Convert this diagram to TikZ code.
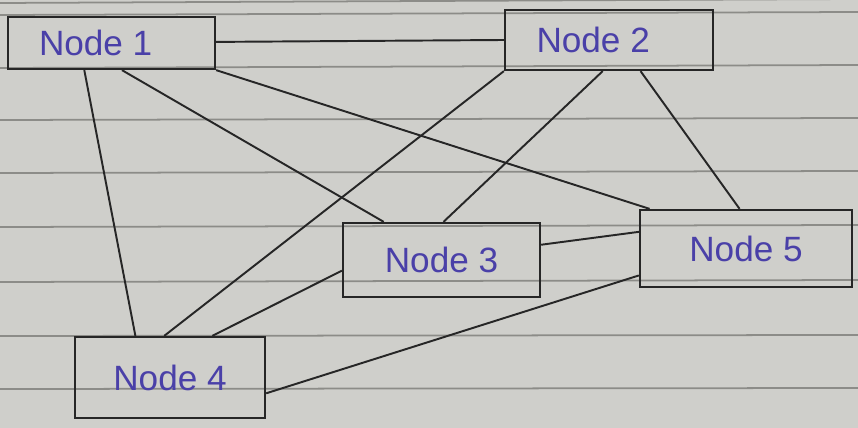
\documentclass[tikz,border=0pt]{standalone}
\usepackage{fontspec}
\newfontfamily\handfont{Liberation Sans}
\usetikzlibrary{calc}
\definecolor{paper}{HTML}{CFCFCB}
\definecolor{rule}{HTML}{8C8C88}
\definecolor{ink}{HTML}{262626}
\definecolor{pen}{HTML}{4A40A8}
\tikzset{
  box/.style={draw=ink, line width=1.3pt, inner sep=0pt,
    font=\handfont\fontsize{20}{24}\selectfont, text=pen},
  link/.style={draw=ink, line width=1.1pt},
  paperline/.style={draw=rule, line width=1pt}
}
\begin{document}
\begin{tikzpicture}[x=0.02cm,y=-0.02cm]
\useasboundingbox (0,0) rectangle (858,428);
\fill[paper] (0,0) rectangle (858,428);
\foreach \yy/\dy in {3/-4,15/-3,68/-3,120/-2,173/-2,227/-2,282/-2,336/-1,389/-1}
  \draw[paperline] (0,\yy) -- (858,\yy+\dy);
% nodes
\node[box, minimum width=207*0.02cm, minimum height=52*0.02cm] (n1) at (111.5,43) {\hspace*{-18pt}Node 1};
\node[box, minimum width=208*0.02cm, minimum height=60*0.02cm] (n2) at (609,40) {\hspace*{-18pt}Node 2};
\node[box, minimum width=197*0.02cm, minimum height=74*0.02cm] (n3) at (441.5,260) {Node 3};
\node[box, minimum width=190*0.02cm, minimum height=81*0.02cm] (n4) at (170,377.5) {Node 4};
\node[box, minimum width=212*0.02cm, minimum height=77*0.02cm] (n5) at (746,248.5) {Node 5};
% connectors
\draw[link] ($(n1.north east)!0.48!(n1.south east)$) -- ($(n2.north west)!0.5!(n2.south west)$);
\draw[link] ($(n1.south west)!0.37!(n1.south east)$) -- ($(n4.north west)!0.32!(n4.north east)$);
\draw[link] ($(n1.south west)!0.55!(n1.south east)$) -- ($(n3.north west)!0.21!(n3.north east)$);
\draw[link] (n1.south east) -- ($(n5.north west)!0.05!(n5.north east)$);
\draw[link] (n2.south west) -- ($(n4.north west)!0.47!(n4.north east)$);
\draw[link] ($(n2.south west)!0.47!(n2.south east)$) -- ($(n3.north west)!0.51!(n3.north east)$);
\draw[link] ($(n2.south west)!0.65!(n2.south east)$) -- ($(n5.north west)!0.47!(n5.north east)$);
\draw[link] ($(n3.north west)!0.64!(n3.south west)$) -- ($(n4.north west)!0.72!(n4.north east)$);
\draw[link] ($(n3.north east)!0.3!(n3.south east)$) -- ($(n5.north west)!0.29!(n5.south west)$);
\draw[link] ($(n4.north east)!0.69!(n4.south east)$) -- ($(n5.north west)!0.84!(n5.south west)$);
\end{tikzpicture}
\end{document}
